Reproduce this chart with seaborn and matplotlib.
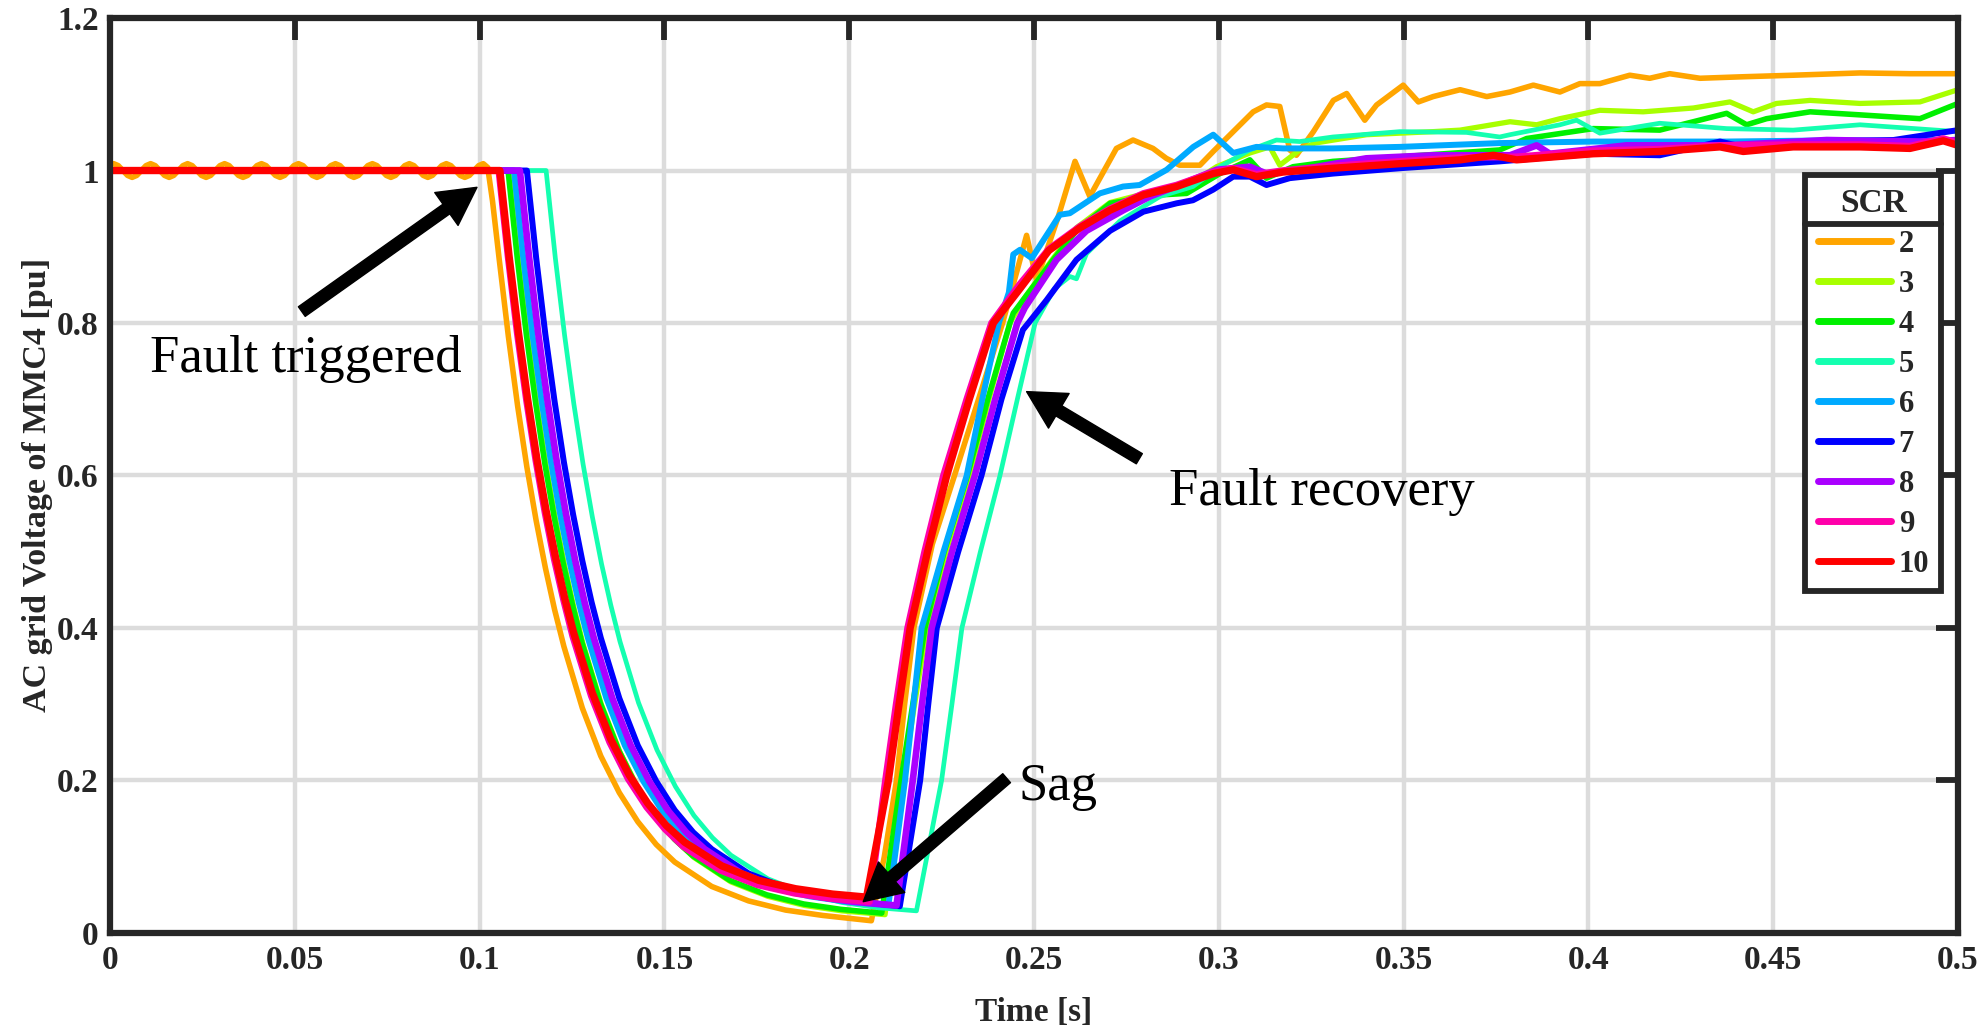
import matplotlib
matplotlib.use("Agg")
import matplotlib.pyplot as plt
import seaborn as sns
from matplotlib.lines import Line2D

# ---------------- data ----------------
scr_labels = ["2", "3", "4", "5", "6", "7", "8", "9", "10"]
line_colors = ["#FFA500", "#A8FF00", "#00F000", "#14FFB0", "#00AAFF",
               "#0000FF", "#AA00FF", "#FF00AA", "#FF0000"]

xtick_vals = [0, 0.05, 0.1, 0.15, 0.2, 0.25, 0.3, 0.35, 0.4, 0.45, 0.5]
xtick_labels = ["0", "0.05", "0.1", "0.15", "0.2", "0.25", "0.3", "0.35", "0.4", "0.45", "0.5"]
ytick_vals = [0, 0.2, 0.4, 0.6, 0.8, 1.0, 1.2]
ytick_labels = ["0", "0.2", "0.4", "0.6", "0.8", "1", "1.2"]

# ---- SCR = 2 (orange): pre-fault ripple, sag, recovery
osc_t2 = [0.0,
          0.00100, 0.00225, 0.00350, 0.00475, 0.00600, 0.00725, 0.00850, 0.00975,
          0.01100, 0.01225, 0.01350, 0.01475, 0.01600, 0.01725, 0.01850, 0.01975,
          0.02100, 0.02225, 0.02350, 0.02475, 0.02600, 0.02725, 0.02850, 0.02975,
          0.03100, 0.03225, 0.03350, 0.03475, 0.03600, 0.03725, 0.03850, 0.03975,
          0.04100, 0.04225, 0.04350, 0.04475, 0.04600, 0.04725, 0.04850, 0.04975,
          0.05100, 0.05225, 0.05350, 0.05475, 0.05600, 0.05725, 0.05850, 0.05975,
          0.06100, 0.06225, 0.06350, 0.06475, 0.06600, 0.06725, 0.06850, 0.06975,
          0.07100, 0.07225, 0.07350, 0.07475, 0.07600, 0.07725, 0.07850, 0.07975,
          0.08100, 0.08225, 0.08350, 0.08475, 0.08600, 0.08725, 0.08850, 0.08975,
          0.09100, 0.09225, 0.09350, 0.09475, 0.09600, 0.09725, 0.09850, 0.09975,
          0.10100]
osc_v2 = [1.007,
          1.009, 1.0064, 1.000, 0.9936, 0.991, 0.9936, 1.000, 1.0064,
          1.009, 1.0064, 1.000, 0.9936, 0.991, 0.9936, 1.000, 1.0064,
          1.009, 1.0064, 1.000, 0.9936, 0.991, 0.9936, 1.000, 1.0064,
          1.009, 1.0064, 1.000, 0.9936, 0.991, 0.9936, 1.000, 1.0064,
          1.009, 1.0064, 1.000, 0.9936, 0.991, 0.9936, 1.000, 1.0064,
          1.009, 1.0064, 1.000, 0.9936, 0.991, 0.9936, 1.000, 1.0064,
          1.009, 1.0064, 1.000, 0.9936, 0.991, 0.9936, 1.000, 1.0064,
          1.009, 1.0064, 1.000, 0.9936, 0.991, 0.9936, 1.000, 1.0064,
          1.009, 1.0064, 1.000, 0.9936, 0.991, 0.9936, 1.000, 1.0064,
          1.009, 1.0064, 1.000, 0.9936, 0.991, 0.9936, 1.000, 1.0064,
          1.009]
dec_t2 = [0.1022, 0.1035, 0.1053, 0.1078, 0.1103, 0.1128, 0.1153, 0.1178, 0.1203, 0.1228,
          0.1278, 0.1328, 0.1378, 0.1428, 0.1478, 0.1528, 0.1628, 0.1728, 0.1828, 0.1928, 0.206]
dec_v2 = [1.004, 0.96, 0.884, 0.782, 0.691, 0.611, 0.541, 0.479, 0.424, 0.376,
          0.295, 0.232, 0.184, 0.146, 0.116, 0.093, 0.061, 0.042, 0.030, 0.023, 0.016]
rise_t2 = [0.2095, 0.2128, 0.215, 0.2175, 0.2225, 0.2285, 0.235, 0.2415, 0.2455, 0.248,
           0.2507, 0.2566, 0.2611, 0.2651, 0.2723, 0.2768, 0.2822, 0.2858, 0.2894, 0.2949,
           0.2985, 0.3039, 0.3093, 0.3129, 0.3165, 0.3192, 0.321, 0.3256, 0.331, 0.3346,
           0.3395, 0.3427, 0.3499, 0.354, 0.358, 0.3653, 0.3725, 0.3788, 0.3851, 0.3923,
           0.3977, 0.4031, 0.4112, 0.4166, 0.422, 0.4302, 0.4419, 0.4554, 0.4735, 0.487, 0.5]
rise_v2 = [0.10, 0.20, 0.30, 0.40, 0.51, 0.60, 0.70, 0.80, 0.87, 0.915,
           0.856, 0.94, 1.012, 0.966, 1.029, 1.040, 1.029, 1.016, 1.007, 1.007,
           1.025, 1.051, 1.077, 1.086, 1.084, 1.027, 1.020, 1.051, 1.092, 1.101,
           1.066, 1.086, 1.112, 1.090, 1.097, 1.106, 1.097, 1.103, 1.112, 1.103,
           1.114, 1.114, 1.125, 1.121, 1.127, 1.121, 1.123, 1.125, 1.128, 1.127, 1.127]

# ---- SCR = 3
dec_t3 = [0.0, 0.108, 0.1105, 0.113, 0.1155, 0.118, 0.1205, 0.123, 0.1255, 0.128,
          0.133, 0.138, 0.143, 0.148, 0.153, 0.158, 0.168, 0.178, 0.188, 0.198, 0.2097]
dec_v3 = [1.0, 1.0, 0.885, 0.783, 0.693, 0.613, 0.544, 0.482, 0.427, 0.379,
          0.299, 0.237, 0.189, 0.151, 0.122, 0.099, 0.067, 0.048, 0.036, 0.029, 0.024]
rise_t3 = [0.2145, 0.2177, 0.221, 0.2262, 0.2325, 0.2378, 0.2435, 0.247, 0.2552, 0.2615,
           0.2706, 0.2841, 0.293, 0.2994, 0.3084, 0.3138, 0.3165, 0.3219, 0.326, 0.34,
           0.358, 0.3653, 0.3788, 0.386, 0.3923, 0.4031, 0.4148, 0.4284, 0.4383, 0.4446,
           0.4509, 0.46, 0.4735, 0.4897, 0.5]
rise_v3 = [0.20, 0.30, 0.40, 0.50, 0.60, 0.70, 0.80, 0.83, 0.885, 0.925,
           0.958, 0.975, 0.985, 1.005, 1.023, 1.031, 1.007, 1.027, 1.036, 1.047,
           1.051, 1.053, 1.064, 1.060, 1.068, 1.079, 1.077, 1.082, 1.090, 1.077,
           1.088, 1.092, 1.088, 1.090, 1.106]

# ---- SCR = 4
dec_t4 = [0.0, 0.1077, 0.1102, 0.1127, 0.1152, 0.1177, 0.1202, 0.1227, 0.1252, 0.1277,
          0.1327, 0.1377, 0.1427, 0.1477, 0.1527, 0.1577, 0.1677, 0.1777, 0.1877, 0.1977, 0.2088]
dec_v4 = [1.0, 1.0, 0.885, 0.783, 0.694, 0.614, 0.545, 0.483, 0.429, 0.381,
          0.301, 0.239, 0.190, 0.153, 0.123, 0.101, 0.069, 0.050, 0.038, 0.031, 0.026]
rise_t4 = [0.214, 0.2172, 0.2205, 0.2257, 0.232, 0.2375, 0.2435, 0.2444, 0.2552, 0.2615,
           0.2706, 0.2841, 0.2913, 0.3003, 0.3084, 0.3129, 0.3201, 0.3309, 0.349, 0.376,
           0.3833, 0.4013, 0.4193, 0.4284, 0.4374, 0.4428, 0.4482, 0.46, 0.4735, 0.4897, 0.5]
rise_v4 = [0.20, 0.30, 0.40, 0.50, 0.60, 0.70, 0.80, 0.813, 0.883, 0.921,
           0.957, 0.968, 0.970, 0.996, 1.014, 0.990, 1.005, 1.012, 1.018, 1.027,
           1.042, 1.055, 1.053, 1.064, 1.075, 1.060, 1.068, 1.077, 1.073, 1.068, 1.088]

# ---- SCR = 5
dec_t5 = [0.0, 0.118, 0.1205, 0.123, 0.1255, 0.128, 0.1305, 0.133, 0.1355, 0.138,
          0.143, 0.148, 0.153, 0.158, 0.163, 0.168, 0.178, 0.188, 0.198, 0.208, 0.2182]
dec_v5 = [1.0, 1.0, 0.885, 0.784, 0.694, 0.615, 0.546, 0.484, 0.430, 0.382,
          0.302, 0.240, 0.192, 0.154, 0.125, 0.102, 0.071, 0.052, 0.040, 0.033, 0.029]
rise_t5 = [0.225, 0.2278, 0.2305, 0.2355, 0.2408, 0.2455, 0.2503, 0.2555, 0.2597, 0.2615,
           0.2642, 0.2733, 0.2841, 0.293, 0.3003, 0.3084, 0.3156, 0.3219, 0.3309, 0.349,
           0.367, 0.376, 0.3788, 0.3923, 0.3968, 0.4031, 0.4193, 0.4374, 0.4554, 0.4735, 0.5]
rise_v5 = [0.20, 0.30, 0.40, 0.50, 0.60, 0.70, 0.80, 0.845, 0.861, 0.858,
           0.891, 0.934, 0.966, 0.979, 1.005, 1.027, 1.040, 1.038, 1.044, 1.051,
           1.050, 1.044, 1.047, 1.060, 1.066, 1.049, 1.062, 1.055, 1.053, 1.060, 1.051]

# ---- SCR = 6
dec_t6 = [0.0, 0.1093, 0.1118, 0.1143, 0.1168, 0.1193, 0.1218, 0.1243, 0.1268, 0.1293,
          0.1343, 0.1393, 0.1443, 0.1493, 0.1543, 0.1593, 0.1693, 0.1793, 0.1893, 0.1993, 0.2106]
dec_v6 = [1.0, 1.0, 0.886, 0.785, 0.697, 0.618, 0.549, 0.488, 0.434, 0.387,
          0.308, 0.246, 0.199, 0.161, 0.132, 0.110, 0.078, 0.059, 0.048, 0.041, 0.036]
rise_t6 = [0.2151, 0.2174, 0.2196, 0.2255, 0.2318, 0.236, 0.2405, 0.2432, 0.2444, 0.2462,
           0.2494, 0.257, 0.2597, 0.2678, 0.2741, 0.2786, 0.2859, 0.2931, 0.2985, 0.3039,
           0.3102, 0.3174, 0.3309, 0.349, 0.376, 0.4013, 0.4374, 0.4735, 0.5]
rise_v6 = [0.20, 0.30, 0.40, 0.50, 0.60, 0.70, 0.80, 0.84, 0.89, 0.896,
           0.885, 0.942, 0.944, 0.970, 0.979, 0.981, 1.001, 1.031, 1.047, 1.023,
           1.031, 1.029, 1.029, 1.031, 1.036, 1.038, 1.038, 1.040, 1.040]

# ---- SCR = 7
dec_t7 = [0.0, 0.1128, 0.1153, 0.1178, 0.1203, 0.1228, 0.1253, 0.1278, 0.1303, 0.1328,
          0.1378, 0.1428, 0.1478, 0.1528, 0.1578, 0.1628, 0.1728, 0.1828, 0.1928, 0.2028, 0.2137]
dec_v7 = [1.0, 1.0, 0.886, 0.785, 0.697, 0.618, 0.549, 0.488, 0.434, 0.387,
          0.308, 0.246, 0.199, 0.161, 0.132, 0.110, 0.078, 0.059, 0.048, 0.041, 0.035]
rise_t7 = [0.2192, 0.2214, 0.2237, 0.2295, 0.2358, 0.2412, 0.247, 0.2485, 0.2534, 0.2615,
           0.2706, 0.2796, 0.2886, 0.293, 0.2985, 0.3039, 0.3084, 0.3129, 0.3192, 0.3309,
           0.349, 0.376, 0.4013, 0.4193, 0.4356, 0.4419, 0.4554, 0.4825, 0.5]
rise_v7 = [0.20, 0.30, 0.40, 0.50, 0.60, 0.70, 0.791, 0.80, 0.83, 0.883,
           0.921, 0.946, 0.957, 0.961, 0.975, 0.992, 0.992, 0.981, 0.990, 0.996,
           1.003, 1.012, 1.022, 1.020, 1.038, 1.031, 1.036, 1.040, 1.053]

# ---- SCR = 8
dec_t8 = [0.0, 0.1109, 0.1134, 0.1159, 0.1184, 0.1209, 0.1234, 0.1259, 0.1284, 0.1309,
          0.1359, 0.1409, 0.1459, 0.1509, 0.1559, 0.1609, 0.1709, 0.1809, 0.1909, 0.2009, 0.2128]
dec_v8 = [1.0, 1.0, 0.886, 0.785, 0.697, 0.618, 0.549, 0.488, 0.434, 0.387,
          0.308, 0.246, 0.199, 0.161, 0.132, 0.110, 0.078, 0.059, 0.048, 0.041, 0.036]
rise_t8 = [0.2172, 0.2197, 0.2223, 0.2278, 0.234, 0.2395, 0.2455, 0.2475, 0.2561, 0.2642,
           0.2742, 0.2814, 0.2904, 0.2994, 0.3084, 0.3129, 0.3219, 0.3399, 0.358, 0.3788,
           0.386, 0.3896, 0.4103, 0.4374, 0.4645, 0.4897, 0.5]
rise_v8 = [0.20, 0.30, 0.40, 0.50, 0.60, 0.70, 0.80, 0.82, 0.883, 0.921,
           0.948, 0.966, 0.983, 1.001, 1.005, 0.996, 1.001, 1.016, 1.020, 1.020,
           1.033, 1.022, 1.033, 1.033, 1.040, 1.038, 1.040]

# ---- SCR = 9
dec_t9 = [0.0, 0.1052, 0.1077, 0.1102, 0.1127, 0.1152, 0.1177, 0.1202, 0.1227, 0.1252,
          0.1302, 0.1352, 0.1402, 0.1452, 0.1502, 0.1552, 0.1652, 0.1752, 0.1852, 0.1952, 0.2055]
dec_v9 = [1.0, 1.0, 0.887, 0.786, 0.698, 0.620, 0.551, 0.490, 0.437, 0.389,
          0.311, 0.250, 0.202, 0.165, 0.136, 0.113, 0.082, 0.063, 0.052, 0.045, 0.041]
rise_t9 = [0.2098, 0.2127, 0.2158, 0.2204, 0.2255, 0.2318, 0.2385, 0.246, 0.254, 0.2625,
           0.2706, 0.2796, 0.2886, 0.2985, 0.3039, 0.3102, 0.3174, 0.3309, 0.349, 0.3653,
           0.3806, 0.4013, 0.4193, 0.4356, 0.4554, 0.4735, 0.487, 0.496, 0.5]
rise_v9 = [0.20, 0.30, 0.40, 0.50, 0.60, 0.70, 0.80, 0.85, 0.897, 0.927,
           0.950, 0.970, 0.981, 0.998, 1.003, 0.995, 1.000, 1.006, 1.012, 1.017,
           1.018, 1.026, 1.028, 1.033, 1.034, 1.034, 1.032, 1.042, 1.036]

# ---- SCR = 10
dec_t10 = [0.0, 0.1055, 0.108, 0.1105, 0.113, 0.1155, 0.118, 0.1205, 0.123, 0.1255,
           0.1305, 0.1355, 0.1405, 0.1455, 0.1505, 0.1555, 0.1655, 0.1755, 0.1855, 0.1955, 0.2047]
dec_v10 = [1.0, 1.0, 0.887, 0.788, 0.700, 0.622, 0.554, 0.494, 0.440, 0.393,
           0.315, 0.254, 0.207, 0.170, 0.141, 0.119, 0.088, 0.069, 0.058, 0.051, 0.047]
rise_t10 = [0.2106, 0.2135, 0.2165, 0.2212, 0.2264, 0.2325, 0.239, 0.2462, 0.254, 0.2625,
            0.2706, 0.2796, 0.2886, 0.2985, 0.3039, 0.3102, 0.3174, 0.3309, 0.349, 0.3653,
            0.3743, 0.3806, 0.4013, 0.4193, 0.4356, 0.4419, 0.4554, 0.4735, 0.487, 0.496, 0.5]
rise_v10 = [0.20, 0.30, 0.40, 0.50, 0.60, 0.70, 0.80, 0.845, 0.895, 0.925,
            0.948, 0.968, 0.979, 0.996, 1.001, 0.992, 0.998, 1.003, 1.009, 1.014,
            1.020, 1.014, 1.022, 1.025, 1.031, 1.025, 1.031, 1.031, 1.029, 1.039, 1.033]

series_t = [osc_t2 + dec_t2 + rise_t2, dec_t3 + rise_t3, dec_t4 + rise_t4,
            dec_t5 + rise_t5, dec_t6 + rise_t6, dec_t7 + rise_t7,
            dec_t8 + rise_t8, dec_t9 + rise_t9, dec_t10 + rise_t10]
series_v = [osc_v2 + dec_v2 + rise_v2, dec_v3 + rise_v3, dec_v4 + rise_v4,
            dec_v5 + rise_v5, dec_v6 + rise_v6, dec_v7 + rise_v7,
            dec_v8 + rise_v8, dec_v9 + rise_v9, dec_v10 + rise_v10]

# annotations: text, text anchor, arrow tail, arrow tip (data units)
ann_text = ["Fault triggered", "Fault recovery", "Sag"]
ann_text_xy = [(0.0108, 0.736), (0.2865, 0.561), (0.2457, 0.174)]
ann_tail = [(0.0519, 0.815), (0.2785, 0.622), (0.2426, 0.203)]
ann_tip = [(0.0993, 0.978), (0.2480, 0.710), (0.2038, 0.041)]

# ---------------- styling ----------------
sns.set_style("white")
plt.rcParams["font.family"] = ["Liberation Serif", "DejaVu Serif"]
serif = ["Liberation Serif", "DejaVu Serif"]
dark = "#262626"

fig = plt.figure(figsize=(19.85, 10.25), dpi=100)
ax = fig.add_axes([0.0554, 0.0898, 0.9310, 0.8926])

line_widths = [4.0, 3.8, 4.0, 3.4, 4.3, 4.3, 4.8, 4.8, 5.3]
for t, v, c, lab, lw in zip(series_t, series_v, line_colors, scr_labels, line_widths):
    sns.lineplot(x=t, y=v, ax=ax, color=c, linewidth=lw, sort=False,
                 estimator=None, label=lab)
for ln in ax.get_lines():
    ln.set_solid_joinstyle("round")

ax.set_xlim(0, 0.5)
ax.set_ylim(0, 1.2)
ax.set_xticks(xtick_vals)
ax.set_xticklabels(xtick_labels)
ax.set_yticks(ytick_vals)
ax.set_yticklabels(ytick_labels)

ax.grid(True, color="#dcdcdc", linewidth=3.2)
ax.set_axisbelow(True)
for sp in ax.spines.values():
    sp.set_visible(True)
    sp.set_color(dark)
    sp.set_linewidth(4.5)
ax.tick_params(axis="both", which="major", direction="in", length=15.5, width=4.2,
               color=dark, top=True, right=True, labelsize=24, labelcolor=dark)
ax.tick_params(axis="x", pad=9)
ax.tick_params(axis="y", pad=8)
for lbl in ax.get_xticklabels() + ax.get_yticklabels():
    lbl.set_fontweight("bold")
    lbl.set_family(serif)

ax.set_xlabel("Time [s]", fontsize=24, fontweight="bold", color=dark, labelpad=15,
              family=serif)
ax.set_ylabel("AC grid Voltage of MMC4 [pu]", fontsize=24.5, fontweight="bold",
              color=dark, labelpad=3, family=serif)
ax.yaxis.label.set_y(0.49)

for txt, pos, tail, tip in zip(ann_text, ann_text_xy, ann_tail, ann_tip):
    ax.annotate("", xy=tip, xytext=tail,
                arrowprops=dict(facecolor="black", edgecolor="black", width=8.5,
                                headwidth=29, headlength=27, shrink=0.0),
                zorder=10)
    ax.text(pos[0], pos[1], txt, fontsize=38, color="black", ha="left",
            va="baseline", zorder=11, family=serif)

leg = ax.legend(title="SCR", loc="upper right", bbox_to_anchor=(0.991, 0.828),
                frameon=True, fancybox=False, framealpha=1.0, edgecolor=dark,
                prop={"weight": "bold", "size": 22, "family": serif},
                title_fontproperties={"weight": "bold", "size": 24, "family": serif},
                handlelength=2.4, handletextpad=0.25, labelspacing=0.36,
                borderpad=0.4, borderaxespad=0.0)
leg.get_frame().set_linewidth(4.2)
leg.set_zorder(20)
for h in leg.get_lines():
    h.set_linewidth(5.0)

fig.canvas.draw()
renderer = fig.canvas.get_renderer()
fb = leg.get_frame().get_window_extent(renderer)
tb = leg.get_title().get_window_extent(renderer)
ysep = tb.y0 - 5
inv = fig.transFigure.inverted()
(x0f, yf), (x1f, _) = inv.transform([(fb.x0, ysep), (fb.x1, ysep)])
fig.add_artist(Line2D([x0f, x1f], [yf, yf], color=dark, linewidth=4.2,
                      transform=fig.transFigure, zorder=30))

fig.savefig("out.png", dpi=100)
